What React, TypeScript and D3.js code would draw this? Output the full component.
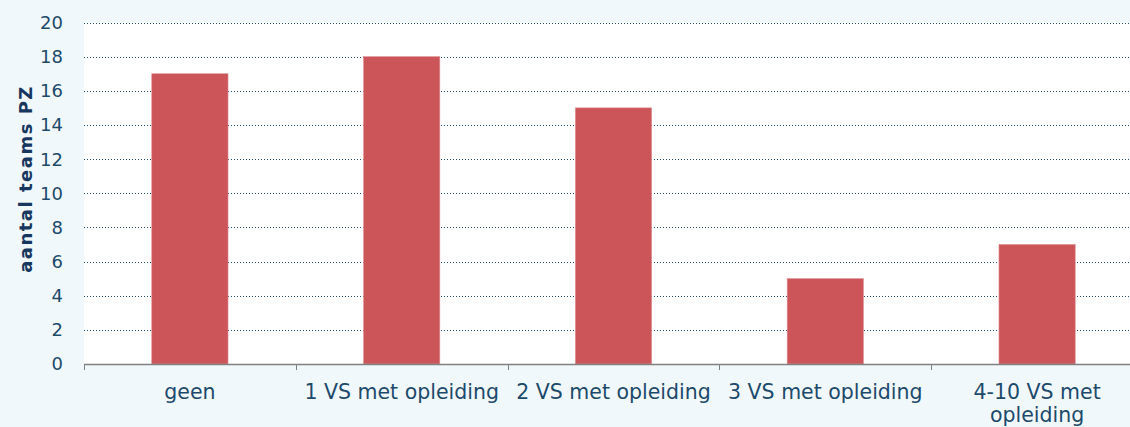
import React from "react";
import * as d3 from "d3";

const categories = ["geen", "1 VS met opleiding", "2 VS met opleiding", "3 VS met opleiding", "4-10 VS met opleiding"];
const labelLines = [["geen"], ["1 VS met opleiding"], ["2 VS met opleiding"], ["3 VS met opleiding"], ["4-10 VS met", "opleiding"]];
const values = [17, 18, 15, 5, 7];
const yTicks = [0, 2, 4, 6, 8, 10, 12, 14, 16, 18, 20];
const yTitle = "aantal teams PZ";

export default function App() {
  const W = 1130, H = 427;
  const left = 84, right = 1143, top = 22.5, bottom = 364;
  const x = d3.scaleBand<string>().domain(categories).range([left, right]).paddingInner(0).paddingOuter(0);
  const y = d3.scaleLinear().domain([0, 20]).range([bottom, top]);
  const bw = x.bandwidth() * 0.36;
  const font = "'DejaVu Sans', sans-serif";
  const textColor = "#1d4a6b";
  return (
    <svg width={W} height={H} style={{ position: "absolute", left: 0, top: 0 }}>
      <rect x={0} y={0} width={W} height={H} fill="#f1f8fb" />
      <rect x={left} y={top} width={W - left} height={bottom - top} fill="#ffffff" />
      {yTicks.filter(t => t > 0).map(t => (
        <line key={t} x1={left} x2={W} y1={Math.round(y(t)) + 0.5} y2={Math.round(y(t)) + 0.5}
          stroke="#1f4e79" strokeWidth={1} strokeDasharray="1,2" />
      ))}
      {categories.map((c, i) => {
        const cx = x(c)! + x.bandwidth() / 2;
        return (
          <rect key={c} x={cx - bw / 2} y={y(values[i])} width={bw} height={bottom - y(values[i])}
            fill="#cc555a" stroke="#e08f92" strokeWidth={0.6} />
        );
      })}
      <line x1={left} x2={W} y1={bottom + 0.5} y2={bottom + 0.5} stroke="#808080" strokeWidth={1.3} />
      {categories.map(c => (
        <line key={c} x1={Math.round(x(c)!) + 0.5} x2={Math.round(x(c)!) + 0.5} y1={bottom} y2={bottom + 6} stroke="#808080" strokeWidth={1} />
      ))}
      {yTicks.map(t => (
        <text key={t} x={63} y={y(t)} dy="0.36em" textAnchor="end" fontFamily={font} fontSize={18} fill={textColor}>{t}</text>
      ))}
      {categories.map((c, i) => {
        const cx = x(c)! + x.bandwidth() / 2;
        return (
          <text key={c} x={cx} y={399} textAnchor="middle" fontFamily={font} fontSize={20.5} fill={textColor}>
            {labelLines[i].map((l, j) => (
              <tspan key={j} x={cx} dy={j === 0 ? 0 : 23}>{l}</tspan>
            ))}
          </text>
        );
      })}
      <text transform={`translate(32, 179) rotate(-90)`} textAnchor="middle"
        fontFamily={font} fontSize={18} fontWeight="bold" letterSpacing={1.5} fill="#17375e">{yTitle}</text>
    </svg>
  );
}
